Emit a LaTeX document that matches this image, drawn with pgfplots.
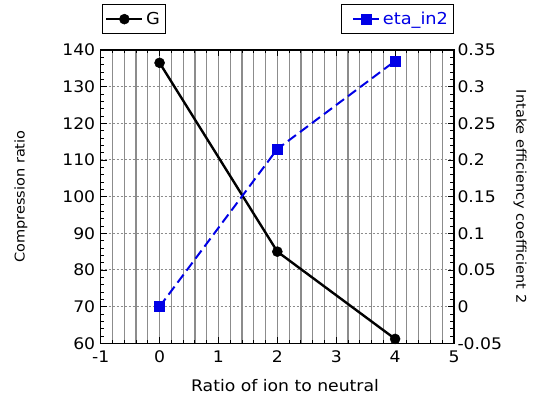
\documentclass[border=0pt]{standalone}
\usepackage{fontspec}
\setmainfont{DejaVu Sans}[FakeStretch=1.08]
\usepackage{pgfplots}
\pgfplotsset{compat=1.18}
\definecolor{gridgray}{RGB}{140,140,140}
\definecolor{myblue}{RGB}{0,0,230}
\begin{document}
\begin{tikzpicture}
\pgfplotsset{
  every axis/.append style={
    scale only axis, width=353.3bp, height=293.3bp,
    xmin=-1, xmax=5,
    tick label style={font=\fontsize{16}{16}\selectfont},
    /pgf/number format/assume math mode=true,
    tick align=inside,
    major tick length=6bp, minor tick length=3.5bp,
    axis line style={black, line width=1.3pt},
    every tick/.style={black, line width=0.9pt},
    yticklabel style={xshift=-2bp},
    legend style={draw=black, line width=1pt, font=\fontsize{16.5}{16.5}\selectfont,
      inner xsep=3bp, inner ysep=5bp, nodes={inner sep=2.5bp}},
  },
}
\begin{axis}[
  ymin=60, ymax=140,
  ytick={60,70,...,140},
  minor y tick num=4,
  xtick={-1,0,...,5},
  minor x tick num=4,
  xticklabel style={yshift=-4bp},
  xmajorgrids, xminorgrids, ymajorgrids,
  major x grid style={gridgray, line width=1.2pt},
  minor x grid style={gridgray, line width=1.2pt},
  major y grid style={gridgray, line width=1pt, dash pattern=on 2.5bp off 1.5bp},
  yticklabel pos=left,
  xlabel={Ratio of ion to neutral},
  ylabel={Compression ratio},
  every axis x label/.style={at={(axis description cs:0,0)}, xshift=184.3bp, yshift=-42bp, anchor=center, font=\fontsize{16}{16}\selectfont},
  every axis y label/.style={at={(axis description cs:0,0.5)}, xshift=-79.7bp, rotate=90, anchor=center, font=\fontsize{13.5}{13.5}\selectfont},
  legend style={at={(rel axis cs:0,1)}, anchor=south west, xshift=1bp, yshift=16bp},
  legend image code/.code={
    \draw[mark repeat=2,mark phase=2,#1] plot coordinates {(0bp,0bp)(18bp,0bp)(36bp,0bp)};
  },
]
\addplot[black, line width=2.4pt, mark=*, mark size=5bp, mark options={solid, line width=0.5pt}] coordinates {
  (0,136.5) (2,85) (4,61.2)
};
\addlegendentry{G}
\end{axis}
\begin{axis}[
  axis y line*=right, axis x line=none,
  ymin=-0.05, ymax=0.35,
  ytick={-0.05,0,0.05,0.1,0.15,0.2,0.25,0.3,0.35},
  yticklabels={-0.05,0,0.05,0.1,0.15,0.2,0.25,0.3,0.35},
  yticklabel style={xshift=2bp},
  minor y tick num=4,
  ylabel={Intake efficiency coefficient 2},
  every axis y label/.style={at={(axis description cs:1,0.5)}, xshift=66bp, rotate=-90, anchor=center, font=\fontsize{13.5}{13.5}\selectfont},
  legend style={at={(rel axis cs:1,1)}, anchor=south east, yshift=16bp, text=myblue},
  legend image code/.code={
    \path (0bp,0bp);
    \draw[mark repeat=2,mark phase=2,#1, solid] plot coordinates {(8bp,0bp)(21bp,0bp)(34bp,0bp)};
  },
]
\addplot[myblue, line width=2pt, dash pattern=on 10bp off 5bp, mark=square*, mark size=5bp, mark options={solid, line width=0.5pt}] coordinates {
  (0,0) (2,0.215) (4,0.335)
};
\addlegendentry{eta\_in2}
\end{axis}
\pgfresetboundingbox
\path[use as bounding box] (-100.7bp,-52.7bp) rectangle (438.3bp,343.3bp);
\end{tikzpicture}
\end{document}
